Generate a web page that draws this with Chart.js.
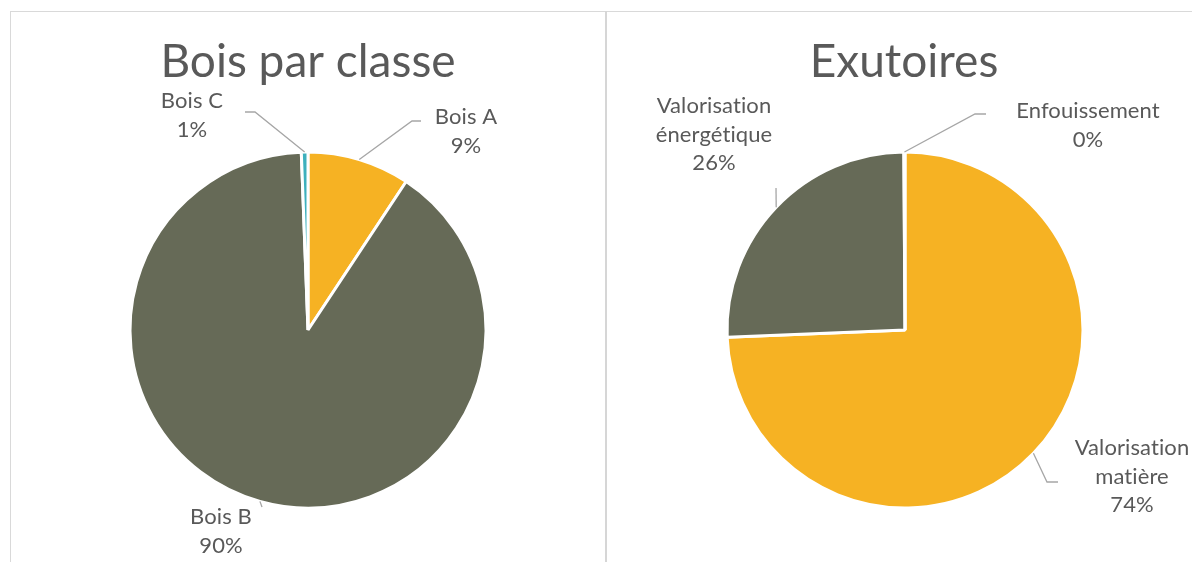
<!DOCTYPE html>
<html>
<head>
<meta charset="utf-8">
<script src="https://cdn.jsdelivr.net/npm/chart.js@4.4.1/dist/chart.umd.min.js"></script>
<style>
  html, body { margin: 0; padding: 0; background: #fff; }
  body { width: 1192px; height: 562px; position: relative; overflow: hidden; }
  #frame { position: absolute; left: 10px; top: 11px; width: 1200px; height: 600px;
           border-left: 1px solid #d9d9d9; border-top: 1px solid #d9d9d9; }
  #sep { position: absolute; left: 605px; top: 11px; width: 2px; height: 560px; background: #d6d6d6; }
  .box { position: absolute; top: 12px; height: 550px; }
  #left { left: 11px; width: 594px; }
  #right { left: 607px; width: 585px; }
</style>
</head>
<body>
<div id="frame"></div>
<div id="sep"></div>
<div class="box" id="left"><canvas id="c1" width="594" height="550"></canvas></div>
<div class="box" id="right"><canvas id="c2" width="585" height="550"></canvas></div>

<script>
// ---- data ----
const classTitle = "Bois par classe";
const classLabels = ["Bois A", "Bois B", "Bois C"];
const classValues = [9.3, 90.1, 0.6];

const outletTitle = "Exutoires";
const outletLabels = ["Valorisation matière", "Valorisation énergétique", "Enfouissement"];
const outletValues = [74.35, 25.55, 0.1];

// ---- style ----
const FONT = "Lato, 'Open Sans', sans-serif";
const TEXT = "#595959";
const LEADER = "#a6a6a6";
const YELLOW = "#f6b223";
const GREY = "#666a57";
const TEAL = "#3eb0bd";

// label placement (page coords): text centre x, first line middle y, elbow points of leader
const classLayout = [
  { x: 466, y: 117, split: false, leader: [[412, 121], [421, 121]] },
  { x: 221, y: 517, split: false, leader: [[262, 507]] },
  { x: 192, y: 101, split: false, leader: [[255, 112], [245, 112]] }
];
const outletLayout = [
  { x: 1132, y: 448, split: true, leader: [[1047, 482], [1058, 482]] },
  { x: 714, y: 106, split: true, leader: [[776, 188]] },
  { x: 1088, y: 111, split: false, leader: [[975, 114], [986, 114]] }
];

const callouts = {
  id: "callouts",
  afterDatasetsDraw(chart, args, opts) {
    const ctx = chart.ctx;
    const r = chart.canvas.getBoundingClientRect();
    const ox = r.left, oy = r.top;
    const values = chart.data.datasets[0].data;
    const total = values.reduce((a, b) => a + b, 0);
    const meta = chart.getDatasetMeta(0);

    ctx.save();
    // title
    ctx.fillStyle = TEXT;
    ctx.textAlign = "center";
    ctx.textBaseline = "alphabetic";
    ctx.font = "46px " + FONT;
    ctx.fillText(opts.title, opts.titleX - ox, 77 - oy);

    meta.data.forEach((arc, i) => {
      const lay = opts.layout[i];
      const p = arc.getProps(["x", "y", "startAngle", "endAngle", "outerRadius"], true);
      const mid = (p.startAngle + p.endAngle) / 2;
      const sx = p.x + Math.cos(mid) * p.outerRadius;
      const sy = p.y + Math.sin(mid) * p.outerRadius;

      ctx.strokeStyle = LEADER;
      ctx.lineWidth = 1.3;
      ctx.beginPath();
      ctx.moveTo(sx, sy);
      lay.leader.forEach(pt => ctx.lineTo(pt[0] - ox, pt[1] - oy));
      ctx.stroke();

      const name = chart.data.labels[i];
      const cut = name.indexOf(" ");
      let lines = lay.split ? [name.slice(0, cut), name.slice(cut + 1)] : [name];
      lines.push(Math.round(values[i] / total * 100) + "%");
      ctx.fillStyle = TEXT;
      ctx.font = "22px " + FONT;
      ctx.letterSpacing = "0.1px"; // keeps Lato from joining "ti"
      ctx.textBaseline = "middle";
      lines.forEach((t, k) => ctx.fillText(t, lay.x - ox, lay.y + k * 28.5 - oy));
      ctx.letterSpacing = "0px";
    });
    ctx.restore();
  }
};

function makePie(id, labels, values, colors, pad, title, titleX, layout) {
  return new Chart(document.getElementById(id), {
    type: "pie",
    data: {
      labels: labels,
      datasets: [{
        data: values,
        backgroundColor: colors,
        borderColor: "#ffffff",
        borderWidth: 3,
        radius: 178
      }]
    },
    options: {
      responsive: false,
      animation: false,
      layout: { padding: pad },
      plugins: {
        legend: { display: false },
        tooltip: { enabled: false },
        callouts: { title: title, titleX: titleX, layout: layout }
      }
    },
    plugins: [callouts]
  });
}

makePie("c1", classLabels, classValues, [YELLOW, GREY, TEAL],
  { left: 119, right: 119, top: 140, bottom: 54 }, classTitle, 308, classLayout);
makePie("c2", outletLabels, outletValues, [YELLOW, GREY, TEAL],
  { left: 120, right: 109, top: 140, bottom: 54 }, outletTitle, 904, outletLayout);
</script>
</body>
</html>
